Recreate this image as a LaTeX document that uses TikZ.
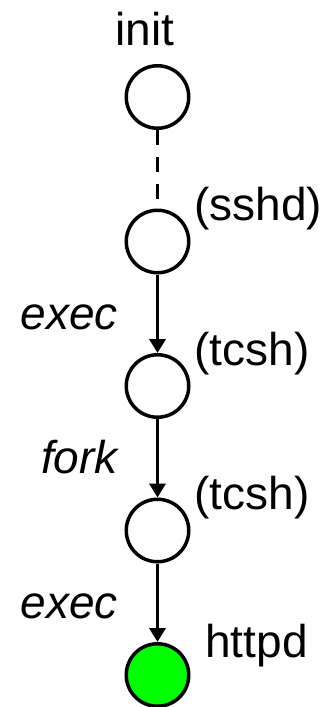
\documentclass[tikz,border=0pt]{standalone}
\usepackage{fontspec}
\setmainfont{Liberation Sans}
\usetikzlibrary{arrows.meta, positioning}
\definecolor{pgreen}{RGB}{0,255,0}

\begin{document}
\begin{tikzpicture}[
    node distance=39.25pt,
    proc/.style={circle, draw, line width=1.75pt, minimum size=31.25pt,
                 inner sep=0pt},
    pname/.style={inner sep=0pt, font=\fontsize{23}{27}\selectfont},
    act/.style={inner sep=0pt, anchor=base east, xshift=-19pt,
                yshift=-7.75pt, font=\fontsize{23}{27}\selectfont\itshape},
    call/.style={line width=1.75pt, -{Triangle[length=7pt, width=8pt]}}]
  \useasboundingbox (-78.75pt,48.5pt) rectangle (88.25pt,-305pt);

  % process chain
  \node[proc] (init) at (0,0) {};
  \node[proc, below=of init] (sshd) {};
  \node[proc, below=of sshd] (tcsh) {};
  \node[proc, below=of tcsh] (subsh) {};
  \node[proc, fill=pgreen, below=of subsh] (httpd) {};

  % process names
  \node[pname, anchor=base] (initname) at ([xshift=-6.25pt, yshift=26pt]init.center) {init};
  \node[pname, anchor=base west] (sshdname) at ([xshift=18.25pt, yshift=10.5pt]sshd.center) {(sshd)};
  \node[pname, anchor=base west] (tcshname) at ([xshift=18.25pt, yshift=10.5pt]tcsh.center) {(tcsh)};
  \node[pname, anchor=base west] (subshname) at ([xshift=18.25pt, yshift=10.5pt]subsh.center) {(tcsh)};
  \node[pname, anchor=base west] (httpdname) at ([xshift=23.75pt, yshift=9pt]httpd.center) {httpd};

  \draw[line width=1.75pt, dash pattern=on 7.5pt off 6pt] (init) -- (sshd);
  \draw[call] (sshd) -- node[act] (exec1) {exec} (tcsh);
  \draw[call] (tcsh) -- node[act] (fork1) {fork} (subsh);
  \draw[call] (subsh) -- node[act] (exec2) {exec} (httpd);
\end{tikzpicture}
\end{document}
